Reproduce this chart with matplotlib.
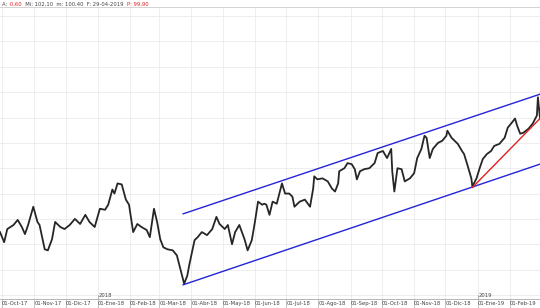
import matplotlib.pyplot as plt
import pandas as pd

# days since 01-Oct-2017 and closing price
days = [-2, 2, 5, 11, 15, 19, 22, 25, 30, 34, 36, 41, 44, 48, 51, 56, 60, 65, 70, 75,
        80, 84, 89, 94, 99, 102, 106, 108, 111, 115, 119, 122, 126, 130, 134, 139, 142, 146, 149, 152,
        155, 159, 164, 168, 171, 175, 178, 180, 185, 188, 192, 197, 202, 206, 209, 214, 217, 221, 224, 228,
        233, 236, 240, 243, 246, 250, 252, 254, 257, 260, 264, 267, 269, 272, 276, 279, 281, 286, 291, 296,
        299, 300, 303, 308, 313, 317, 320, 323, 324, 329, 332, 336, 339, 341, 344, 348, 353, 358, 361, 366,
        370, 374, 375, 377, 380, 384, 387, 392, 396, 399, 403, 406, 408, 411, 414, 419, 423, 427, 428, 432,
        435, 438, 442, 444, 447, 451, 452, 456, 459, 462, 466, 470, 473, 478, 483, 486, 490, 493, 495, 498,
        501, 506, 510, 514, 515, 517]
close = [77.4, 75.4, 78.0, 78.8, 79.8, 78.4, 77.0, 78.8, 82.4, 79.4, 78.8, 74.0, 73.8, 76.0, 79.4, 78.4, 78.0, 78.8, 80.0, 79.0,
         80.8, 79.4, 78.4, 82.0, 81.8, 82.8, 85.8, 85.0, 87.0, 86.8, 83.8, 82.8, 77.4, 79.0, 78.4, 77.8, 76.4, 82.0, 79.4, 76.0,
         74.4, 74.0, 73.8, 72.8, 70.4, 67.2, 68.8, 71.0, 75.8, 76.4, 77.4, 76.8, 78.0, 80.4, 79.0, 78.0, 78.8, 75.0, 77.4, 78.8,
         76.0, 73.8, 75.8, 79.4, 83.4, 82.8, 83.0, 82.8, 80.8, 83.4, 83.0, 85.4, 87.0, 85.0, 85.0, 84.4, 82.4, 83.4, 83.8, 82.4,
         86.0, 88.4, 87.8, 88.0, 87.4, 86.0, 85.4, 87.0, 89.4, 90.0, 91.0, 90.8, 89.8, 87.8, 89.4, 89.8, 90.0, 91.0, 93.0, 93.4,
         92.0, 93.8, 89.4, 85.4, 90.0, 89.8, 87.4, 88.0, 89.0, 92.0, 93.8, 96.4, 96.0, 92.0, 93.8, 95.0, 95.4, 96.4, 97.4, 96.0,
         95.4, 94.8, 93.4, 92.8, 90.8, 88.0, 86.4, 88.0, 90.0, 91.8, 92.8, 93.4, 94.4, 94.8, 96.0, 98.0, 99.0, 99.8, 98.4, 96.8,
         97.0, 97.8, 98.8, 100.4, 104.0, 99.8]

# trend channel (blue) and support line (red)
chan_days = [174, 517]
chan_upper = [81.0, 104.6]
chan_lower = [67.0, 90.8]
red_days = [452, 517]
red_vals = [86.2, 99.8]

month_days = [0, 31, 61, 92, 123, 151, 182, 212, 243, 273, 304, 335, 365, 396, 426, 457, 488]
month_labels = ['01-Oct-17', '01-Nov-17', '01-Dic-17', '01-Ene-18', '01-Feb-18', '01-Mar-18',
                '01-Abr-18', '01-May-18', '01-Jun-18', '01-Jul-18', '01-Ago-18', '01-Sep-18',
                '01-Oct-18', '01-Nov-18', '01-Dic-18', '01-Ene-19', '01-Feb-19']
year_days = [92, 457]
year_labels = ['2018', '2019']
grid_levels = [65, 70, 75, 80, 85, 90, 95, 100, 105, 110, 115, 120]

df = pd.DataFrame({'day': days, 'close': close})

fig = plt.figure(figsize=(5.4, 3.08), dpi=100)
ax = fig.add_axes([0, 9 / 308, 1, 1 - 16 / 308])

for d in month_days:
    ax.axvline(d, color='#ebebeb', lw=0.6, zorder=0)
for g in grid_levels:
    ax.axhline(g, color='#ebebeb', lw=0.6, zorder=0)

ax.plot(df['day'], df['close'], color='#262626', lw=1.3, zorder=3)
ax.plot(chan_days, chan_upper, color='#2424d8', lw=1.0, zorder=4)
ax.plot(chan_days, chan_lower, color='#2424d8', lw=1.0, zorder=4)
ax.plot(red_days, red_vals, color='#e02020', lw=1.0, zorder=4)

ax.set_xlim(-2, 517)
ax.set_ylim(64.2, 121.8)
ax.set_yticks([])
ax.set_xticks(month_days)
ax.set_xticklabels(month_labels, fontsize=3.8, color='#444444', ha='left')
ax.tick_params(axis='x', direction='out', length=9, width=0.5, color='#aaaaaa', pad=-7.5)
for lab in ax.get_xticklabels():
    lab.set_x(lab.get_position()[0])
for s in ['top', 'right', 'left']:
    ax.spines[s].set_visible(False)
ax.spines['bottom'].set_color('#aaaaaa')
ax.spines['bottom'].set_linewidth(0.6)

trans = ax.get_xaxis_transform()
for d, lab in zip(year_days, year_labels):
    ax.plot([d, d], [0, 0.012], color='#999999', lw=0.5, transform=trans, clip_on=False)
    ax.text(d + 1, 0.004, lab, fontsize=3.8, color='#444444', transform=trans, va='bottom')

# header line
fig.add_artist(plt.Line2D([0, 1], [1 - 7 / 308, 1 - 7 / 308], color='#cccccc', lw=0.6))
parts = [('A: ', '#444444'), ('-0,60', '#e02020'), ('  Mi: 102,10  m: 100,40  F: 29-04-2019  ', '#444444'),
         ('P: 99,90', '#e02020')]
x = 2
for txt, col in parts:
    t = fig.text(x / 540, 1 - 4 / 308, txt, fontsize=3.8, color=col, va='center', ha='left')
    fig.canvas.draw()
    x += t.get_window_extent().width

fig.savefig('out.png', dpi=100)
